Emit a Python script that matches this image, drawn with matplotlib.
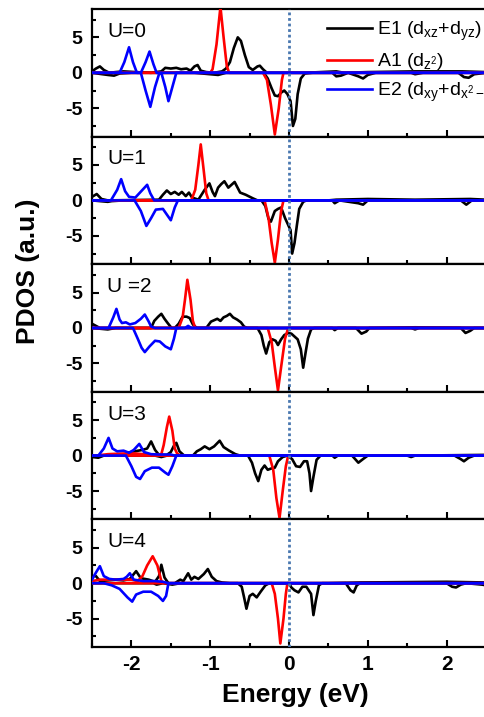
import matplotlib
matplotlib.use("Agg")
import matplotlib.pyplot as plt
from matplotlib.ticker import MultipleLocator

plt.rcParams['font.family'] = ['Liberation Sans', 'DejaVu Sans']
plt.rcParams['mathtext.fontset'] = 'custom'
plt.rcParams['mathtext.rm'] = 'Liberation Sans'
plt.rcParams['mathtext.it'] = 'Liberation Sans'
plt.rcParams['mathtext.default'] = 'regular'
plt.rcParams['axes.unicode_minus'] = False

# ---------------- data (Energy eV, PDOS a.u.) ----------------
panel_labels = ["U=0", "U=1", "U =2", "U=3", "U=4"]
series_labels = ["E1 (d$_{xz}$+d$_{yz}$)", "A1 (d$_{z^2}$)", "E2 (d$_{xy}$+d$_{x^2-y^2}$)"]
x_ticks = [-2, -1, 0, 1, 2]
y_ticks = [-5, 0, 5]

# U = 0
U0_E1_up = [(-2.5, 0.2), (-2.45, 0.6), (-2.4, 0.9), (-2.35, 0.4), (-2.28, 0.0), (-2.2, 0.1), (-2.1, 0.2),
            (-1.95, 0.1), (-1.75, 0.0), (-1.62, 0.2), (-1.57, 0.7), (-1.5, 0.6), (-1.43, 0.7), (-1.37, 0.5),
            (-1.3, 0.6), (-1.25, 0.3), (-1.2, 0.9), (-1.16, 1.1), (-1.12, 0.3), (-1.05, 0.1), (-0.95, 0.0),
            (-0.85, 0.2), (-0.8, 0.6), (-0.75, 1.5), (-0.7, 3.5), (-0.65, 5.0), (-0.61, 4.5), (-0.56, 2.5),
            (-0.51, 0.8), (-0.46, 0.4), (-0.4, 0.9), (-0.37, 1.0), (-0.33, 0.5), (-0.28, 0.0), (0.2, 0.0),
            (0.6, 0.2), (0.7, 0.0), (1.0, 0.1), (1.6, 0.2), (2.2, 0.2), (2.5, 0.1)]
U0_E1_dn = [(-2.5, 0.0), (-2.3, -0.3), (-2.22, -0.4), (-2.15, -0.1), (-2.0, 0.0), (-1.2, 0.0), (-1.0, -0.2),
            (-0.9, -0.3), (-0.8, 0.0), (-0.32, 0.0), (-0.27, -0.8), (-0.22, -2.2), (-0.18, -3.2), (-0.14, -3.3),
            (-0.1, -2.8), (-0.06, -2.5), (-0.02, -3.0), (0.02, -4.0), (0.05, -7.5), (0.08, -6.5), (0.11, -3.0),
            (0.15, -0.8), (0.2, -0.1), (0.3, 0.0), (0.55, 0.0), (0.6, -0.5), (0.66, -0.4), (0.75, 0.0),
            (0.88, -0.5), (0.94, -0.8), (1.0, -0.3), (1.1, 0.0), (1.55, 0.0), (1.6, -0.2), (1.7, 0.0),
            (2.15, 0.0), (2.22, -0.6), (2.28, -0.7), (2.35, -0.2), (2.5, 0.0)]
U0_A1_up = [(-2.5, 0.0), (-1.0, 0.0), (-0.97, 0.5), (-0.92, 4.0), (-0.87, 9.3), (-0.83, 5.0), (-0.79, 1.0),
            (-0.76, 0.0), (2.5, 0.0)]
U0_A1_dn = [(-2.5, 0.0), (-0.33, 0.0), (-0.28, -1.0), (-0.23, -4.5), (-0.18, -8.7), (-0.13, -5.0),
            (-0.09, -1.0), (-0.07, 0.0), (2.5, 0.0)]
U0_E2_up = [(-2.5, 0.0), (-2.15, 0.0), (-2.09, 1.5), (-2.03, 3.6), (-1.98, 1.5), (-1.93, 0.0), (-1.88, 0.0),
            (-1.82, 1.5), (-1.77, 3.0), (-1.72, 1.2), (-1.68, 0.0), (2.5, 0.0)]
U0_E2_dn = [(-2.5, 0.0), (-1.88, 0.0), (-1.82, -2.5), (-1.76, -4.8), (-1.7, -2.0), (-1.65, -0.2), (-1.62, 0.0),
            (-1.57, -2.0), (-1.53, -4.0), (-1.48, -2.0), (-1.43, 0.0), (2.5, 0.0)]

# U = 1
U1_E1_up = [(-2.5, 0.5), (-2.44, 0.9), (-2.38, 0.2), (-2.3, 0.0), (-1.65, 0.1), (-1.6, 0.8), (-1.55, 1.4),
            (-1.5, 0.9), (-1.45, 1.2), (-1.4, 0.8), (-1.36, 1.2), (-1.31, 0.6), (-1.27, 1.1), (-1.23, 0.4),
            (-1.15, 0.1), (-1.07, 1.5), (-1.01, 2.4), (-0.97, 1.2), (-0.94, 0.6), (-0.9, 1.8), (-0.86, 2.3),
            (-0.82, 2.7), (-0.77, 1.8), (-0.69, 2.6), (-0.62, 1.1), (-0.55, 0.8), (-0.46, 0.3), (-0.4, 0.0),
            (0.5, 0.0), (0.6, 0.1), (1.0, 0.2), (1.6, 0.1), (2.3, 0.2), (2.5, 0.1)]
U1_E1_dn = [(-2.5, 0.0), (-2.3, -0.2), (-2.25, -0.1), (-2.1, 0.0), (-0.35, 0.0), (-0.3, -0.8), (-0.26, -2.6),
            (-0.23, -3.0), (-0.18, -1.5), (-0.14, -1.2), (-0.1, -1.0), (-0.05, -2.5), (0.02, -4.2),
            (0.04, -7.5), (0.07, -6.0), (0.1, -3.5), (0.13, -1.2), (0.18, -0.2), (0.22, 0.0), (0.55, 0.0),
            (0.58, -0.4), (0.64, 0.0), (0.88, -0.4), (0.94, -0.6), (1.0, 0.0), (2.18, 0.0), (2.25, -0.6),
            (2.32, 0.0), (2.5, 0.0)]
U1_A1_up = [(-2.5, 0.0), (-1.24, 0.0), (-1.19, 1.5), (-1.15, 5.0), (-1.12, 7.9), (-1.08, 4.0), (-1.05, 1.0),
            (-1.02, 0.0), (2.5, 0.0)]
U1_A1_dn = [(-2.5, 0.0), (-0.31, 0.0), (-0.26, -2.5), (-0.22, -6.0), (-0.18, -8.8), (-0.14, -5.5),
            (-0.1, -1.5), (-0.07, 0.0), (2.5, 0.0)]
U1_E2_up = [(-2.5, 0.0), (-2.26, 0.0), (-2.18, 1.5), (-2.13, 3.0), (-2.08, 1.3), (-2.03, 0.5), (-1.95, 0.4),
            (-1.9, 1.0), (-1.85, 1.6), (-1.8, 2.2), (-1.76, 1.0), (-1.71, 0.0), (2.5, 0.0)]
U1_E2_dn = [(-2.5, 0.0), (-1.96, 0.0), (-1.88, -1.5), (-1.81, -3.6), (-1.75, -2.5), (-1.69, -1.3),
            (-1.6, -1.2), (-1.5, -2.8), (-1.45, -1.0), (-1.41, 0.0), (2.5, 0.0)]

# U = 2
U2_E1_up = [(-2.5, 0.6), (-2.45, 0.3), (-2.4, 0.0), (-1.75, 0.0), (-1.71, 1.0), (-1.66, 1.6), (-1.62, 2.0),
            (-1.58, 1.3), (-1.54, 0.7), (-1.49, 0.0), (-1.45, 0.0), (-1.4, 0.6), (-1.35, 1.6), (-1.3, 1.6),
            (-1.26, 1.4), (-1.22, 0.5), (-1.17, 0.0), (-1.05, 0.0), (-0.99, 0.9), (-0.95, 1.1), (-0.91, 1.3),
            (-0.87, 1.0), (-0.83, 1.5), (-0.79, 1.7), (-0.75, 2.0), (-0.71, 1.5), (-0.66, 1.2), (-0.61, 0.8),
            (-0.57, 0.2), (-0.53, 0.0), (1.0, 0.0), (1.6, 0.1), (2.5, 0.0)]
U2_E1_dn = [(-2.5, 0.0), (-2.3, -0.2), (-2.2, 0.0), (-0.4, 0.0), (-0.35, -1.0), (-0.32, -2.5), (-0.29, -3.6),
            (-0.25, -2.0), (-0.21, -1.6), (-0.17, -1.8), (-0.14, -2.4), (-0.1, -1.6), (-0.06, -1.0),
            (-0.01, -0.7), (0.03, -0.8), (0.07, -1.2), (0.11, -1.6), (0.15, -3.0), (0.18, -5.6), (0.21, -3.5),
            (0.24, -1.5), (0.28, -0.2), (0.32, 0.0), (0.55, 0.0), (0.58, -0.3), (0.62, 0.0), (0.85, 0.0),
            (0.92, -0.8), (0.98, -0.5), (1.02, 0.0), (1.55, 0.0), (1.6, -0.2), (1.65, 0.0), (2.18, 0.0),
            (2.24, -0.7), (2.3, -0.4), (2.35, 0.0), (2.5, 0.0)]
U2_A1_up = [(-2.5, 0.0), (-1.4, 0.0), (-1.35, 1.5), (-1.32, 4.0), (-1.29, 6.8), (-1.25, 4.0), (-1.22, 1.0),
            (-1.19, 0.0), (2.5, 0.0)]
U2_A1_dn = [(-2.5, 0.0), (-0.27, 0.0), (-0.22, -2.0), (-0.18, -5.5), (-0.14, -8.8), (-0.1, -5.5),
            (-0.05, -1.5), (-0.01, 0.0), (2.5, 0.0)]
U2_E2_up = [(-2.5, 0.0), (-2.29, 0.0), (-2.23, 1.5), (-2.19, 2.7), (-2.15, 1.2), (-2.12, 0.7), (-2.07, 0.8),
            (-2.02, 0.5), (-1.95, 0.7), (-1.88, 1.3), (-1.83, 1.9), (-1.78, 0.9), (-1.75, 0.2), (-1.7, 0.0),
            (-1.32, 0.0), (-1.28, 0.3), (-1.24, 0.0), (2.5, 0.0)]
U2_E2_dn = [(-2.5, 0.0), (-1.98, 0.0), (-1.92, -1.5), (-1.87, -2.8), (-1.83, -3.4), (-1.77, -2.6),
            (-1.7, -1.8), (-1.64, -1.9), (-1.57, -2.6), (-1.5, -3.0), (-1.46, -1.5), (-1.43, 0.0), (2.5, 0.0)]

# U = 3
U3_E1_up = [(-2.5, 0.0), (-2.1, 0.0), (-2.05, 0.4), (-1.96, 0.6), (-1.86, 0.8), (-1.8, 1.0), (-1.75, 2.0),
            (-1.7, 0.8), (-1.65, 0.1), (-1.55, 0.1), (-1.5, 0.5), (-1.46, 1.4), (-1.43, 1.8), (-1.39, 0.6),
            (-1.33, 0.0), (-1.22, 0.0), (-1.17, 0.6), (-1.12, 0.9), (-1.07, 1.3), (-1.01, 0.9), (-0.95, 1.3),
            (-0.88, 2.1), (-0.83, 1.2), (-0.76, 0.7), (-0.68, 0.2), (-0.62, 0.0), (1.6, 0.0), (2.5, 0.1)]
U3_E1_dn = [(-2.5, -0.2), (-2.42, -0.3), (-2.35, 0.0), (-1.7, 0.0), (-1.62, -0.2), (-1.55, 0.0),
            (-0.52, 0.0), (-0.47, -1.0), (-0.43, -2.5), (-0.39, -3.6), (-0.35, -2.0), (-0.31, -1.4),
            (-0.27, -2.0), (-0.22, -1.8), (-0.18, -1.7), (-0.14, -0.8), (-0.08, -0.2), (-0.02, 0.0),
            (0.04, -0.5), (0.09, -1.5), (0.14, -1.6), (0.19, -0.8), (0.23, -0.8), (0.26, -2.5), (0.28, -5.0),
            (0.31, -3.0), (0.35, -0.6), (0.4, 0.0), (0.55, 0.0), (0.58, -0.3), (0.62, 0.0), (0.8, 0.0),
            (0.88, -1.0), (0.95, -0.4), (1.0, 0.0), (1.5, 0.0), (1.55, -0.2), (1.6, 0.0), (2.1, 0.0),
            (2.18, -0.5), (2.22, -0.8), (2.28, -0.3), (2.35, 0.0), (2.5, 0.0)]
U3_A1_up = [(-2.5, 0.0), (-2.45, 0.0), (-2.3, 0.2), (-2.1, 0.3), (-1.95, 0.3), (-1.85, 0.2), (-1.7, 0.1),
            (-1.62, 0.2), (-1.59, 1.5), (-1.55, 4.0), (-1.52, 5.5), (-1.48, 3.5), (-1.45, 1.0), (-1.42, 0.3),
            (-1.38, 0.0), (2.5, 0.0)]
U3_A1_dn = [(-2.5, 0.0), (-0.25, 0.0), (-0.2, -2.0), (-0.16, -6.0), (-0.12, -8.8), (-0.08, -5.0),
            (-0.04, -1.5), (-0.01, 0.0), (2.5, 0.0)]
U3_E2_up = [(-2.5, 0.0), (-2.42, 0.0), (-2.35, 1.0), (-2.29, 2.5), (-2.24, 1.0), (-2.18, 0.6), (-2.1, 0.7),
            (-2.03, 0.4), (-1.97, 0.8), (-1.9, 1.65), (-1.84, 0.5), (-1.75, 0.2), (-1.65, 0.15), (-1.5, 0.15),
            (-1.45, 0.0), (2.5, 0.0)]
U3_E2_dn = [(-2.5, 0.0), (-2.07, 0.0), (-2.0, -1.5), (-1.94, -3.0), (-1.89, -3.3), (-1.83, -2.2),
            (-1.74, -1.7), (-1.65, -1.7), (-1.57, -2.4), (-1.53, -2.7), (-1.48, -1.5), (-1.43, 0.0), (2.5, 0.0)]

# U = 4
U4_E1_up = [(-2.5, 1.0), (-2.45, 1.0), (-2.4, 0.3), (-2.3, 0.4), (-2.2, 0.5), (-2.1, 0.4), (-2.02, 0.6),
            (-1.94, 1.7), (-1.88, 0.7), (-1.78, 0.5), (-1.7, 0.2), (-1.65, 1.0), (-1.62, 2.6), (-1.58, 0.8),
            (-1.53, 0.0), (-1.45, 0.0), (-1.38, 0.5), (-1.34, 0.3), (-1.28, 1.4), (-1.24, 0.5), (-1.2, 0.9),
            (-1.15, 0.6), (-1.08, 1.3), (-1.03, 2.0), (-0.98, 0.9), (-0.92, 0.3), (-0.85, 0.1), (-0.75, 0.0),
            (0.5, 0.0), (0.9, 0.1), (2.0, 0.2), (2.5, 0.1)]
U4_E1_dn = [(-2.5, 0.0), (-1.72, 0.0), (-1.68, -0.2), (-1.6, 0.0), (-1.48, -0.2), (-1.38, 0.0),
            (-0.65, 0.0), (-0.6, -0.5), (-0.57, -2.0), (-0.54, -3.6), (-0.5, -1.8), (-0.46, -1.5),
            (-0.41, -2.0), (-0.36, -1.2), (-0.3, -0.3), (-0.25, 0.0), (0.0, 0.0), (0.03, -0.6), (0.07, -1.0),
            (0.12, -1.3), (0.17, -0.5), (0.22, -0.5), (0.28, -1.5), (0.31, -4.5), (0.34, -2.5), (0.38, -0.3),
            (0.42, 0.0), (0.72, 0.0), (0.78, -1.0), (0.82, -1.3), (0.86, -0.3), (0.9, 0.0), (2.0, 0.0),
            (2.07, -0.5), (2.12, -0.6), (2.18, -0.2), (2.25, 0.0), (2.45, -0.2), (2.5, -0.3)]
U4_A1_up = [(-2.5, 0.3), (-2.4, 0.5), (-2.2, 0.5), (-2.0, 0.5), (-1.92, 0.3), (-1.86, 1.0), (-1.8, 2.5),
            (-1.73, 3.8), (-1.67, 2.5), (-1.62, 0.3), (-1.58, 0.0), (2.5, 0.0)]
U4_A1_dn = [(-2.5, 0.0), (-0.22, 0.0), (-0.18, -1.5), (-0.14, -5.0), (-0.11, -8.5), (-0.07, -5.0),
            (-0.04, -1.5), (-0.02, 0.0), (2.5, 0.0)]
U4_E2_up = [(-2.5, 0.5), (-2.45, 1.5), (-2.4, 2.4), (-2.35, 1.0), (-2.28, 0.6), (-2.2, 0.5), (-2.1, 0.6),
            (-2.06, 0.9), (-2.02, 1.4), (-1.97, 0.5), (-1.85, 0.3), (-1.7, 0.3), (-1.6, 0.2), (-1.53, 0.0),
            (2.5, 0.0)]
U4_E2_dn = [(-2.5, 0.0), (-2.35, 0.0), (-2.25, -0.3), (-2.15, -0.8), (-2.05, -2.0), (-1.99, -2.6),
            (-1.94, -1.6), (-1.85, -1.2), (-1.75, -1.2), (-1.66, -1.8), (-1.6, -2.5), (-1.56, -1.8),
            (-1.53, 0.0), (2.5, 0.0)]

panels = [
    (U0_E1_up, U0_E1_dn, U0_A1_up, U0_A1_dn, U0_E2_up, U0_E2_dn),
    (U1_E1_up, U1_E1_dn, U1_A1_up, U1_A1_dn, U1_E2_up, U1_E2_dn),
    (U2_E1_up, U2_E1_dn, U2_A1_up, U2_A1_dn, U2_E2_up, U2_E2_dn),
    (U3_E1_up, U3_E1_dn, U3_A1_up, U3_A1_dn, U3_E2_up, U3_E2_dn),
    (U4_E1_up, U4_E1_dn, U4_A1_up, U4_A1_dn, U4_E2_up, U4_E2_dn),
]

# ---------------- figure ----------------
W, H = 484, 717
fig = plt.figure(figsize=(W / 100, H / 100), dpi=100)

left_px, right_px = 92, 486
top_px, bot_px = 9, 647
ph = (bot_px - top_px) / 5

colors = ['black', '#ff0000', '#0000ff']
lw = 1.9

for i, curves in enumerate(panels):
    top = top_px + i * ph
    ax = fig.add_axes([left_px / W, 1 - (top + ph) / H, (right_px - left_px) / W, ph / H])
    handles = []
    for k in range(3):
        for s in range(2):
            pts = curves[2 * k + s]
            xs = [p[0] for p in pts]
            ys = [p[1] for p in pts]
            ln, = ax.plot(xs, ys, color=colors[k], lw=lw, zorder=2 + k,
                          solid_joinstyle='round')
            if s == 0:
                handles.append(ln)
    ax.axvline(0, color='#4a78b0', lw=2.0, ls=(0, (1, 1)), zorder=6)
    ax.set_xlim(-2.5, 2.5)
    ax.set_ylim(-9, 9)
    ax.set_yticks(y_ticks)
    ax.yaxis.set_minor_locator(MultipleLocator(2.5))
    ax.set_xticks(x_ticks)
    ax.xaxis.set_minor_locator(MultipleLocator(0.5))
    ax.tick_params(axis='both', which='both', direction='in', top=False, right=False)
    ax.tick_params(axis='both', which='major', length=5, width=1.5)
    ax.tick_params(axis='both', which='minor', length=3, width=1.5)
    ax.tick_params(axis='y', labelsize=14, pad=7)
    ax.tick_params(axis='x', labelsize=15, pad=6)
    for lab in ax.get_xticklabels() + ax.get_yticklabels():
        lab.set_fontweight('bold')
    for sp in ax.spines.values():
        sp.set_linewidth(1.6)
    if i < 4:
        ax.tick_params(axis='x', labelbottom=False)
    ax.text(0.038, 0.9, panel_labels[i], transform=ax.transAxes, fontsize=15,
            ha='left', va='top')
    if i == 0:
        ax.legend(handles, series_labels, loc='upper left', frameon=False,
                  bbox_to_anchor=(327 / W, 1 - 20 / H), bbox_transform=fig.transFigure,
                  fontsize=14, handlelength=2.3, handletextpad=0.25, labelspacing=0.42,
                  borderpad=0, borderaxespad=0)

fig.text(28 / W, 1 - 271 / H, "PDOS (a.u.)", rotation=90, fontsize=19, fontweight='bold',
         ha='center', va='center')
fig.text(295 / W, 1 - 695 / H, "Energy (eV)", fontsize=19, fontweight='bold',
         ha='center', va='center')

fig.savefig("out.png", dpi=100)
